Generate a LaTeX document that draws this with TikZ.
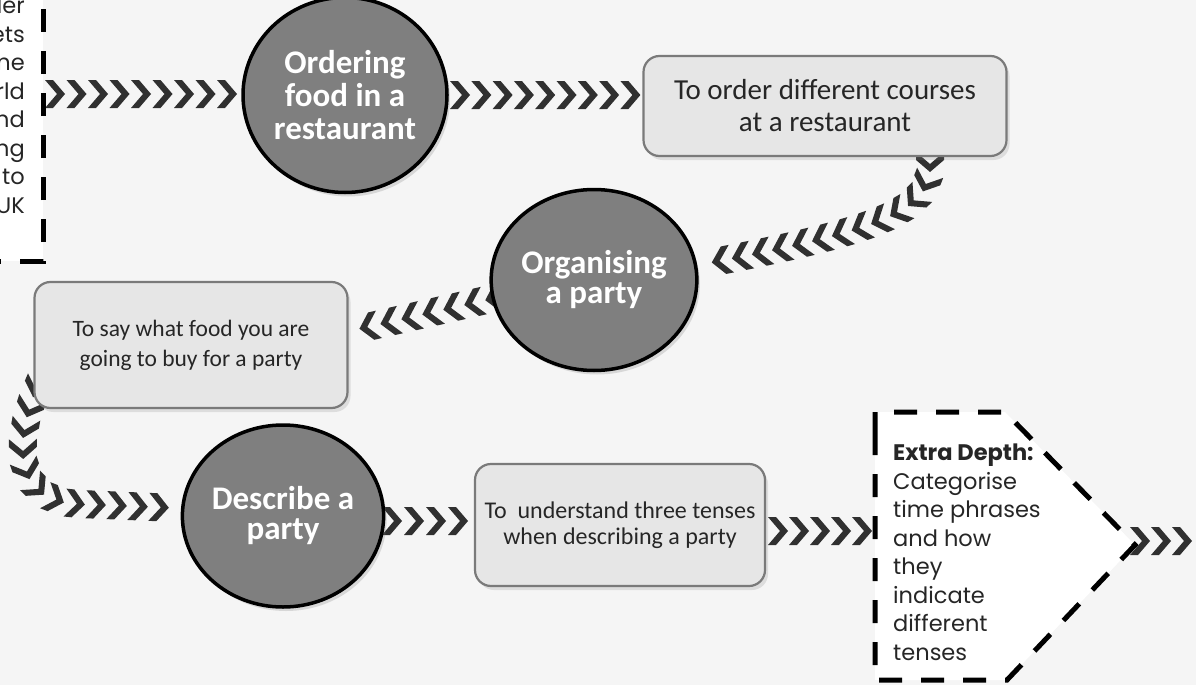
\documentclass[tikz,border=0pt]{standalone}
\usepackage{fontspec}
\setmainfont{Carlito}
\newfontfamily\gothic{Poppins}
\usetikzlibrary{decorations.markings,shadows,shapes.geometric}
\pgfdeclarelayer{back}
\pgfdeclarelayer{links}
\pgfsetlayers{back,links,main}
\definecolor{chev}{HTML}{303030}
\definecolor{bgc}{HTML}{F5F5F5}
\definecolor{circfill}{HTML}{7F7F7F}
\definecolor{boxfill}{HTML}{E6E6E6}
\definecolor{boxline}{HTML}{7A7A7A}
\tikzset{
  chevs/.style={postaction={decorate},decoration={markings,
    mark=between positions 0 and 1 step #1 with {\fill[chev] (-10,-14) -- (-2,-14) -- (10,0) -- (-2,14) -- (-10,14) -- (2,0) -- cycle;}}},
  circ/.style={ellipse, inner sep=0pt, fill=circfill, draw=black, line width=3.5pt,
    text=white, align=center, font=\bfseries\fontsize{33}{33}\selectfont,
    drop shadow={shadow xshift=3pt, shadow yshift=-4pt, opacity=0.25}},
  lbox/.style={rectangle, rounded corners=16pt, fill=boxfill, draw=boxline, line width=2.2pt,
    align=center, text=black!85, inner sep=0pt,
    drop shadow={shadow xshift=3pt, shadow yshift=-4pt, opacity=0.2}},
  dashline/.style={draw=black, line width=5pt, dash pattern=on 23pt off 19pt},
  gtext/.style={inner sep=0pt, text=black!85, font=\gothic\fontsize{22.5}{28.5}\selectfont}
}
\begin{document}
\begin{tikzpicture}[x=1pt,y=-1pt]
\useasboundingbox (0,0) rectangle (1196,685);
\begin{pgfonlayer}{back}
\fill[bgc] (0,0) rectangle (1196,685);
\end{pgfonlayer}

% left clipped box
\fill[white] (-5,-5) rectangle (43,261);
\draw[dashline, dash phase=20pt] (-2,261) -- (43,261) -- (43,-5);
\node[gtext, anchor=north east, align=right] (lt) at (25,-3)
  {ler\\ets\\ne\\rld\\nd\\ng\\to\\UK};

% circles
\node[circ, minimum width=204pt, minimum height=195pt, font=\bfseries\fontsize{33}{33}\selectfont] (c1) at (345,95) {Ordering\\food in a\\restaurant};
\node[circ, minimum width=198pt, minimum height=181pt, font=\bfseries\fontsize{33}{30}\selectfont] (c2) at (594,280) {Organising\\a party};
\node[circ, minimum width=199pt, minimum height=182pt, font=\bfseries\fontsize{33}{30}\selectfont] (c3) at (283,516) {Describe a\\party};

% boxes
\node[lbox, minimum width=363pt, minimum height=100pt, font=\fontsize{29}{32}\selectfont] (b1) at (825,106) {To order different courses\\at a restaurant};
\node[lbox, minimum width=313pt, minimum height=126pt, font=\fontsize{23.5}{30}\selectfont] (b2) at (191,345) {To say what food you are\\going to buy for a party};
\node[lbox, minimum width=290pt, minimum height=122pt, font=\fontsize{24}{26}\selectfont] (b3) at (620,525) {To\ \ understand three tenses\\when describing a party};

% extra depth pentagon
\fill[white] (875,412) -- (1005,412) -- (1135,545) -- (1007,680) -- (875,680) -- cycle;
\draw[dashline] (875,435) -- (875,412) -- (1005,412) -- (1135,545) -- (1007,680) -- (875,680) -- cycle;
\node[gtext, anchor=north west, align=left] (ed) at (893,444)
  {\textbf{Extra Depth:}\\Categorise\\time phrases\\and how\\they\\indicate\\different\\tenses};

% connector coordinates
\coordinate (a1) at (55,94);   \coordinate (a2) at (231,94);
\coordinate (d1) at (460,95);  \coordinate (d2) at (631,95);
\coordinate (e1) at (392,521); \coordinate (e2) at (459,521);
\coordinate (g1) at (778,531); \coordinate (g2) at (863,531);
\coordinate (h1) at (1140,541); \coordinate (h2) at (1183,541);

\begin{pgfonlayer}{links}
\path[chevs=21.5pt] (a1) -- (a2);
\path[chevs=21.3pt] (d1) -- (d2);
\path[chevs=20.5pt] (930,162) .. controls (930,212) and (880,230) .. (704,264);
\path[chevs=21.5pt] (495,298) -- (354,330);
\path[chevs=21pt] (37,388) .. controls (15,440) and (12,500) .. (80,504) -- (176,508);
\path[chevs=22pt] (e1) -- (e2);
\path[chevs=21pt] (g1) -- (g2);
\path[chevs=21pt] (h1) -- (h2);
\end{pgfonlayer}
\end{tikzpicture}
\end{document}
